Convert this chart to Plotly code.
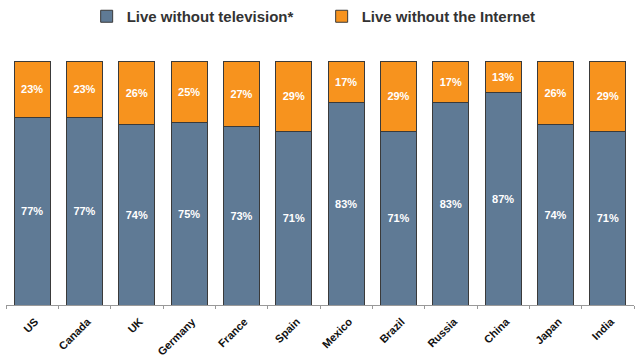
import plotly.graph_objects as go

countries = ["US", "Canada", "UK", "Germany", "France", "Spain", "Mexico", "Brazil", "Russia", "China", "Japan", "India"]
no_tv = [77, 77, 74, 75, 73, 71, 83, 71, 83, 87, 74, 71]
no_internet = [23, 23, 26, 25, 27, 29, 17, 29, 17, 13, 26, 29]

blue = "#5F7A95"
orange = "#F7931E"
font = "Liberation Sans, Arial, sans-serif"

fig = go.Figure()
fig.add_trace(go.Bar(
    x=countries, y=no_tv, name="<b>Live without television*</b>",
    marker=dict(color=blue, line=dict(color="#3a3a3a", width=1)),
    texttemplate="<b>%{y}%</b>", textposition="inside", insidetextanchor="middle",
    textangle=0, textfont=dict(color="white", size=11, family=font),
))
fig.add_trace(go.Bar(
    x=countries, y=no_internet, name="<b>Live without the Internet</b>",
    marker=dict(color=orange, line=dict(color="#3a3a3a", width=1)),
    texttemplate="<b>%{y}%</b>", textposition="inside", insidetextanchor="middle",
    textangle=0, textfont=dict(color="white", size=11, family=font),
))

fig.update_layout(
    barmode="stack",
    bargap=0.31,
    width=642, height=358,
    margin=dict(l=6, r=8, t=61, b=53),
    paper_bgcolor="white", plot_bgcolor="white",
    font=dict(family=font, color="#333333"),
    showlegend=True,
    legend=dict(orientation="h", xref="container", x=0.135, xanchor="left",
                yref="container", y=1.0, yanchor="top",
                font=dict(size=15, color="#333333", family=font), traceorder="normal",
                itemwidth=30, entrywidth=190),
    uniformtext=dict(minsize=8, mode="show"),
)
fig.update_xaxes(
    type="category", showline=True, linecolor="#999999", linewidth=1,
    ticks="outside", tickson="boundaries", ticklen=3, tickcolor="#999999",
    tickangle=-45, tickfont=dict(size=11, color="#111111", family=font),
    ticklabelstandoff=5, ticklabelshift=3, automargin=False,
    tickprefix="<b>", ticksuffix="</b>", showgrid=False,
)
fig.update_yaxes(range=[0, 100], visible=False, showgrid=False)

fig.write_html("out.html")
